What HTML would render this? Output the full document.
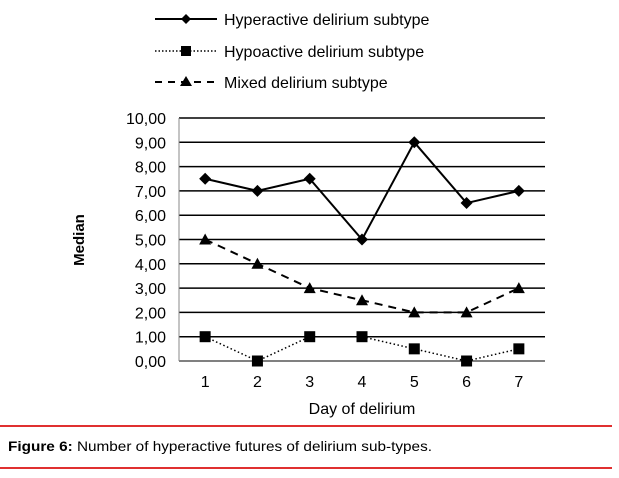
<!DOCTYPE html>
<html><head><meta charset="utf-8"><style>
body{margin:0;background:#fff;width:619px;height:478px;overflow:hidden;font-family:"Liberation Sans",Arial,sans-serif}
svg{display:block}
</style></head><body>
<svg width="619" height="478" id="c">
<g id="legend">
 <g>
  <line x1="155" y1="19" x2="217" y2="19" stroke="#000" stroke-width="2"/>
  <path d="M186 14 L191 19 L186 24 L181 19Z" fill="#000"/>
  <text x="224" y="25" font-size="16">Hyperactive delirium subtype</text></g>
 <g>
  <line x1="155" y1="51" x2="217" y2="51" stroke="#000" stroke-width="1.5" stroke-dasharray="1.5,2"/>
  <rect x="181" y="46" width="10" height="10" fill="#000"/>
  <text x="224" y="57" font-size="16">Hypoactive delirium subtype</text></g>
 <g>
  <line x1="155" y1="82" x2="217" y2="82" stroke="#000" stroke-width="2" stroke-dasharray="7,6"/>
  <path d="M186 76 L192 86 L180 86Z" fill="#000"/>
  <text x="224" y="88" font-size="16">Mixed delirium subtype</text></g>
</g>
<g id="axes"></g>
<g id="series"></g>
<text x="84" y="240" font-size="15" font-weight="bold" text-anchor="middle" transform="rotate(-90 84 240)">Median</text>
<text x="362" y="414" font-size="16" text-anchor="middle">Day of delirium</text>
<line x1="0" y1="426" x2="612" y2="426" stroke="#e03030" stroke-width="2"/>
<text x="8" y="451" font-size="14" textLength="424" lengthAdjust="spacingAndGlyphs"><tspan font-weight="bold">Figure 6:</tspan> Number of hyperactive futures of delirium sub-types.</text>
<line x1="0" y1="468" x2="612" y2="468" stroke="#e03030" stroke-width="2"/>
</svg>
<script>
const categories=["1","2","3","4","5","6","7"];
const hyperactive=[7.5,7,7.5,5,9,6.5,7];
const hypoactive=[1,0,1,1,0.5,0,0.5];
const mixed=[5,4,3,2.5,2,2,3];
const yTicks=["0,00","1,00","2,00","3,00","4,00","5,00","6,00","7,00","8,00","9,00","10,00"];
const NS="http://www.w3.org/2000/svg";
const L=179,R=545,T=118,B=361,yMax=10;
const bw=(R-L)/categories.length;
function x(i){return L+bw*(i+0.5);}
function y(v){return B-(v/yMax)*(B-T);}
function mk(t,a,p){const e=document.createElementNS(NS,t);for(const k in a)e.setAttribute(k,a[k]);p.appendChild(e);return e;}
const ax=document.getElementById('axes');
yTicks.forEach((t,i)=>{
 const v=parseFloat(t.replace(',','.'));
 const g=mk('line',{x1:L,x2:R,y1:y(v),y2:y(v),stroke:'#000','stroke-width':v===0?1:1.5},ax);
 
 
 const tx=mk('text',{x:166,y:y(v)+6,'font-size':16,'text-anchor':'end'},ax);
 tx.textContent=t;
 
 
});
const yl=mk('line',{x1:L,x2:L,y1:T,y2:B,stroke:'#888','stroke-width':1},ax);


categories.forEach((c,i)=>{
 const tx=mk('text',{x:x(i),y:387,'font-size':16,'text-anchor':'middle'},ax);
 tx.textContent=c;
 
 
});
const sg=document.getElementById('series');
function series(vals,dash,w,marker,name){
 const pts=vals.map((v,i)=>x(i)+','+y(v)).join(' ');
 const pl=mk('polyline',{points:pts,fill:'none',stroke:'#000','stroke-width':w,'stroke-dasharray':dash},sg);
 
 
 vals.forEach((v,i)=>{
  const cx=x(i),cy=y(v);let m;
  if(marker==='d')m=mk('path',{d:`M${cx} ${cy-6}L${cx+6} ${cy}L${cx} ${cy+6}L${cx-6} ${cy}Z`,fill:'#000'},sg);
  else if(marker==='s')m=mk('rect',{x:cx-5.5,y:cy-5.5,width:11,height:11,fill:'#000'},sg);
  else m=mk('path',{d:`M${cx} ${cy-6}L${cx+6} ${cy+5}L${cx-6} ${cy+5}Z`,fill:'#000'},sg);
  
  
 });
}
series(hyperactive,'none',2,'d','hyperactive');
series(hypoactive,'1.5,2.5',1.5,'s','hypoactive');
series(mixed,'8,6',2,'t','mixed');
</script>
</body></html>
